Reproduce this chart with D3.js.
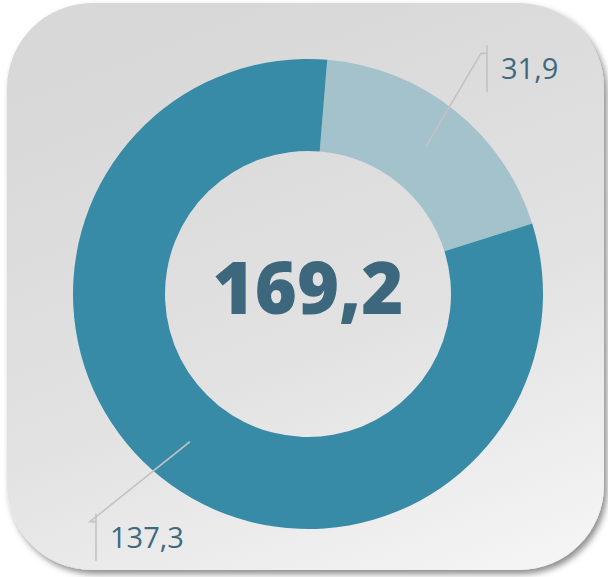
<!DOCTYPE html>
<html>
<head>
<meta charset="utf-8">
<script src="https://cdn.jsdelivr.net/npm/d3@7"></script>
<style>
  html, body { margin: 0; padding: 0; background: #ffffff; }
  svg { display: block; }
</style>
</head>
<body>
<div class="chart"></div>
<script>
// donut chart with total in the middle

// data
var categories = ["A", "B"];
var values = [31.9, 137.3];
var valueLabels = ["31,9", "137,3"];
var totalLabel = "169,2";
var colors = ["#a3c2cc", "#378ba7"];

var width = 608, height = 577;
var cx = 308, cy = 294;
var outerR = 235, innerR = 143;

var svg = d3.select(".chart")
    .append("svg")
    .attr("width", width)
    .attr("height", height);

var defs = svg.append("defs");

// card background gradient
var grad = defs.append("linearGradient")
    .attr("id", "cardGrad")
    .attr("x1", "0.45").attr("y1", "0")
    .attr("x2", "0.85").attr("y2", "1");
grad.append("stop").attr("offset", "0%").attr("stop-color", "#d8d8d8");
grad.append("stop").attr("offset", "55%").attr("stop-color", "#e2e2e2");
grad.append("stop").attr("offset", "100%").attr("stop-color", "#f4f4f4");

var shadow = defs.append("filter")
    .attr("id", "shadow")
    .attr("x", "-10%").attr("y", "-10%")
    .attr("width", "120%").attr("height", "120%");
shadow.append("feDropShadow")
    .attr("dx", 3).attr("dy", 4)
    .attr("stdDeviation", 3)
    .attr("flood-color", "#000")
    .attr("flood-opacity", 0.45);

svg.append("rect")
    .attr("x", 7).attr("y", 3)
    .attr("width", 597).attr("height", 567)
    .attr("rx", 85).attr("ry", 85)
    .attr("fill", "url(#cardGrad)")
    .attr("filter", "url(#shadow)");

var g = svg.append("g")
    .attr("transform", "translate(" + cx + "," + cy + ")");

var startOffset = 4.7 * Math.PI / 180;

var pie = d3.pie()
    .sort(null)
    .startAngle(startOffset)
    .endAngle(startOffset + 2 * Math.PI);

var arc = d3.arc()
    .innerRadius(innerR)
    .outerRadius(outerR);

var arcs = pie(values);

g.selectAll(".slice")
    .data(arcs)
    .enter().append("path")
    .attr("class", "slice")
    .attr("d", arc)
    .attr("fill", function(d, i) { return colors[i]; });

// leader lines: knee offset from the centroid (annotation placement)
var kneeOffset = [[55, -93], [-100, 80]];

var lab = g.selectAll(".lab")
    .data(arcs)
    .enter().append("g")
    .attr("class", "lab");

lab.append("polyline")
    .attr("fill", "none")
    .attr("stroke", "#c3c3c3")
    .attr("stroke-width", 1.6)
    .attr("points", function(d, i) {
        var c = arc.centroid(d);
        var k = [c[0] + kneeOffset[i][0], c[1] + kneeOffset[i][1]];
        return [c, k, [k[0] + 6, k[1]]].map(function(p) { return p.join(","); }).join(" ");
    });

lab.append("line")
    .attr("stroke", "#c3c3c3")
    .attr("stroke-width", 1.6)
    .attr("x1", function(d, i) { return arc.centroid(d)[0] + kneeOffset[i][0] + 6; })
    .attr("x2", function(d, i) { return arc.centroid(d)[0] + kneeOffset[i][0] + 6; })
    .attr("y1", function(d, i) { return arc.centroid(d)[1] + kneeOffset[i][1] - 8; })
    .attr("y2", function(d, i) { return arc.centroid(d)[1] + kneeOffset[i][1] + 39; });

lab.append("text")
    .attr("x", function(d, i) { return arc.centroid(d)[0] + kneeOffset[i][0] + 20; })
    .attr("y", function(d, i) { return arc.centroid(d)[1] + kneeOffset[i][1] + 26; })
    .attr("fill", "#3d6a80")
    .style("font-family", "'Open Sans', sans-serif")
    .style("font-size", "29px")
    .text(function(d, i) { return valueLabels[i]; });

// total in the middle
g.append("text")
    .attr("x", 0)
    .attr("y", 20)
    .attr("text-anchor", "middle")
    .attr("fill", "#3c677c")
    .style("font-family", "'Open Sans', sans-serif")
    .style("font-weight", 800)
    .style("font-size", "72px")
    .text(totalLabel);
</script>
</body>
</html>
